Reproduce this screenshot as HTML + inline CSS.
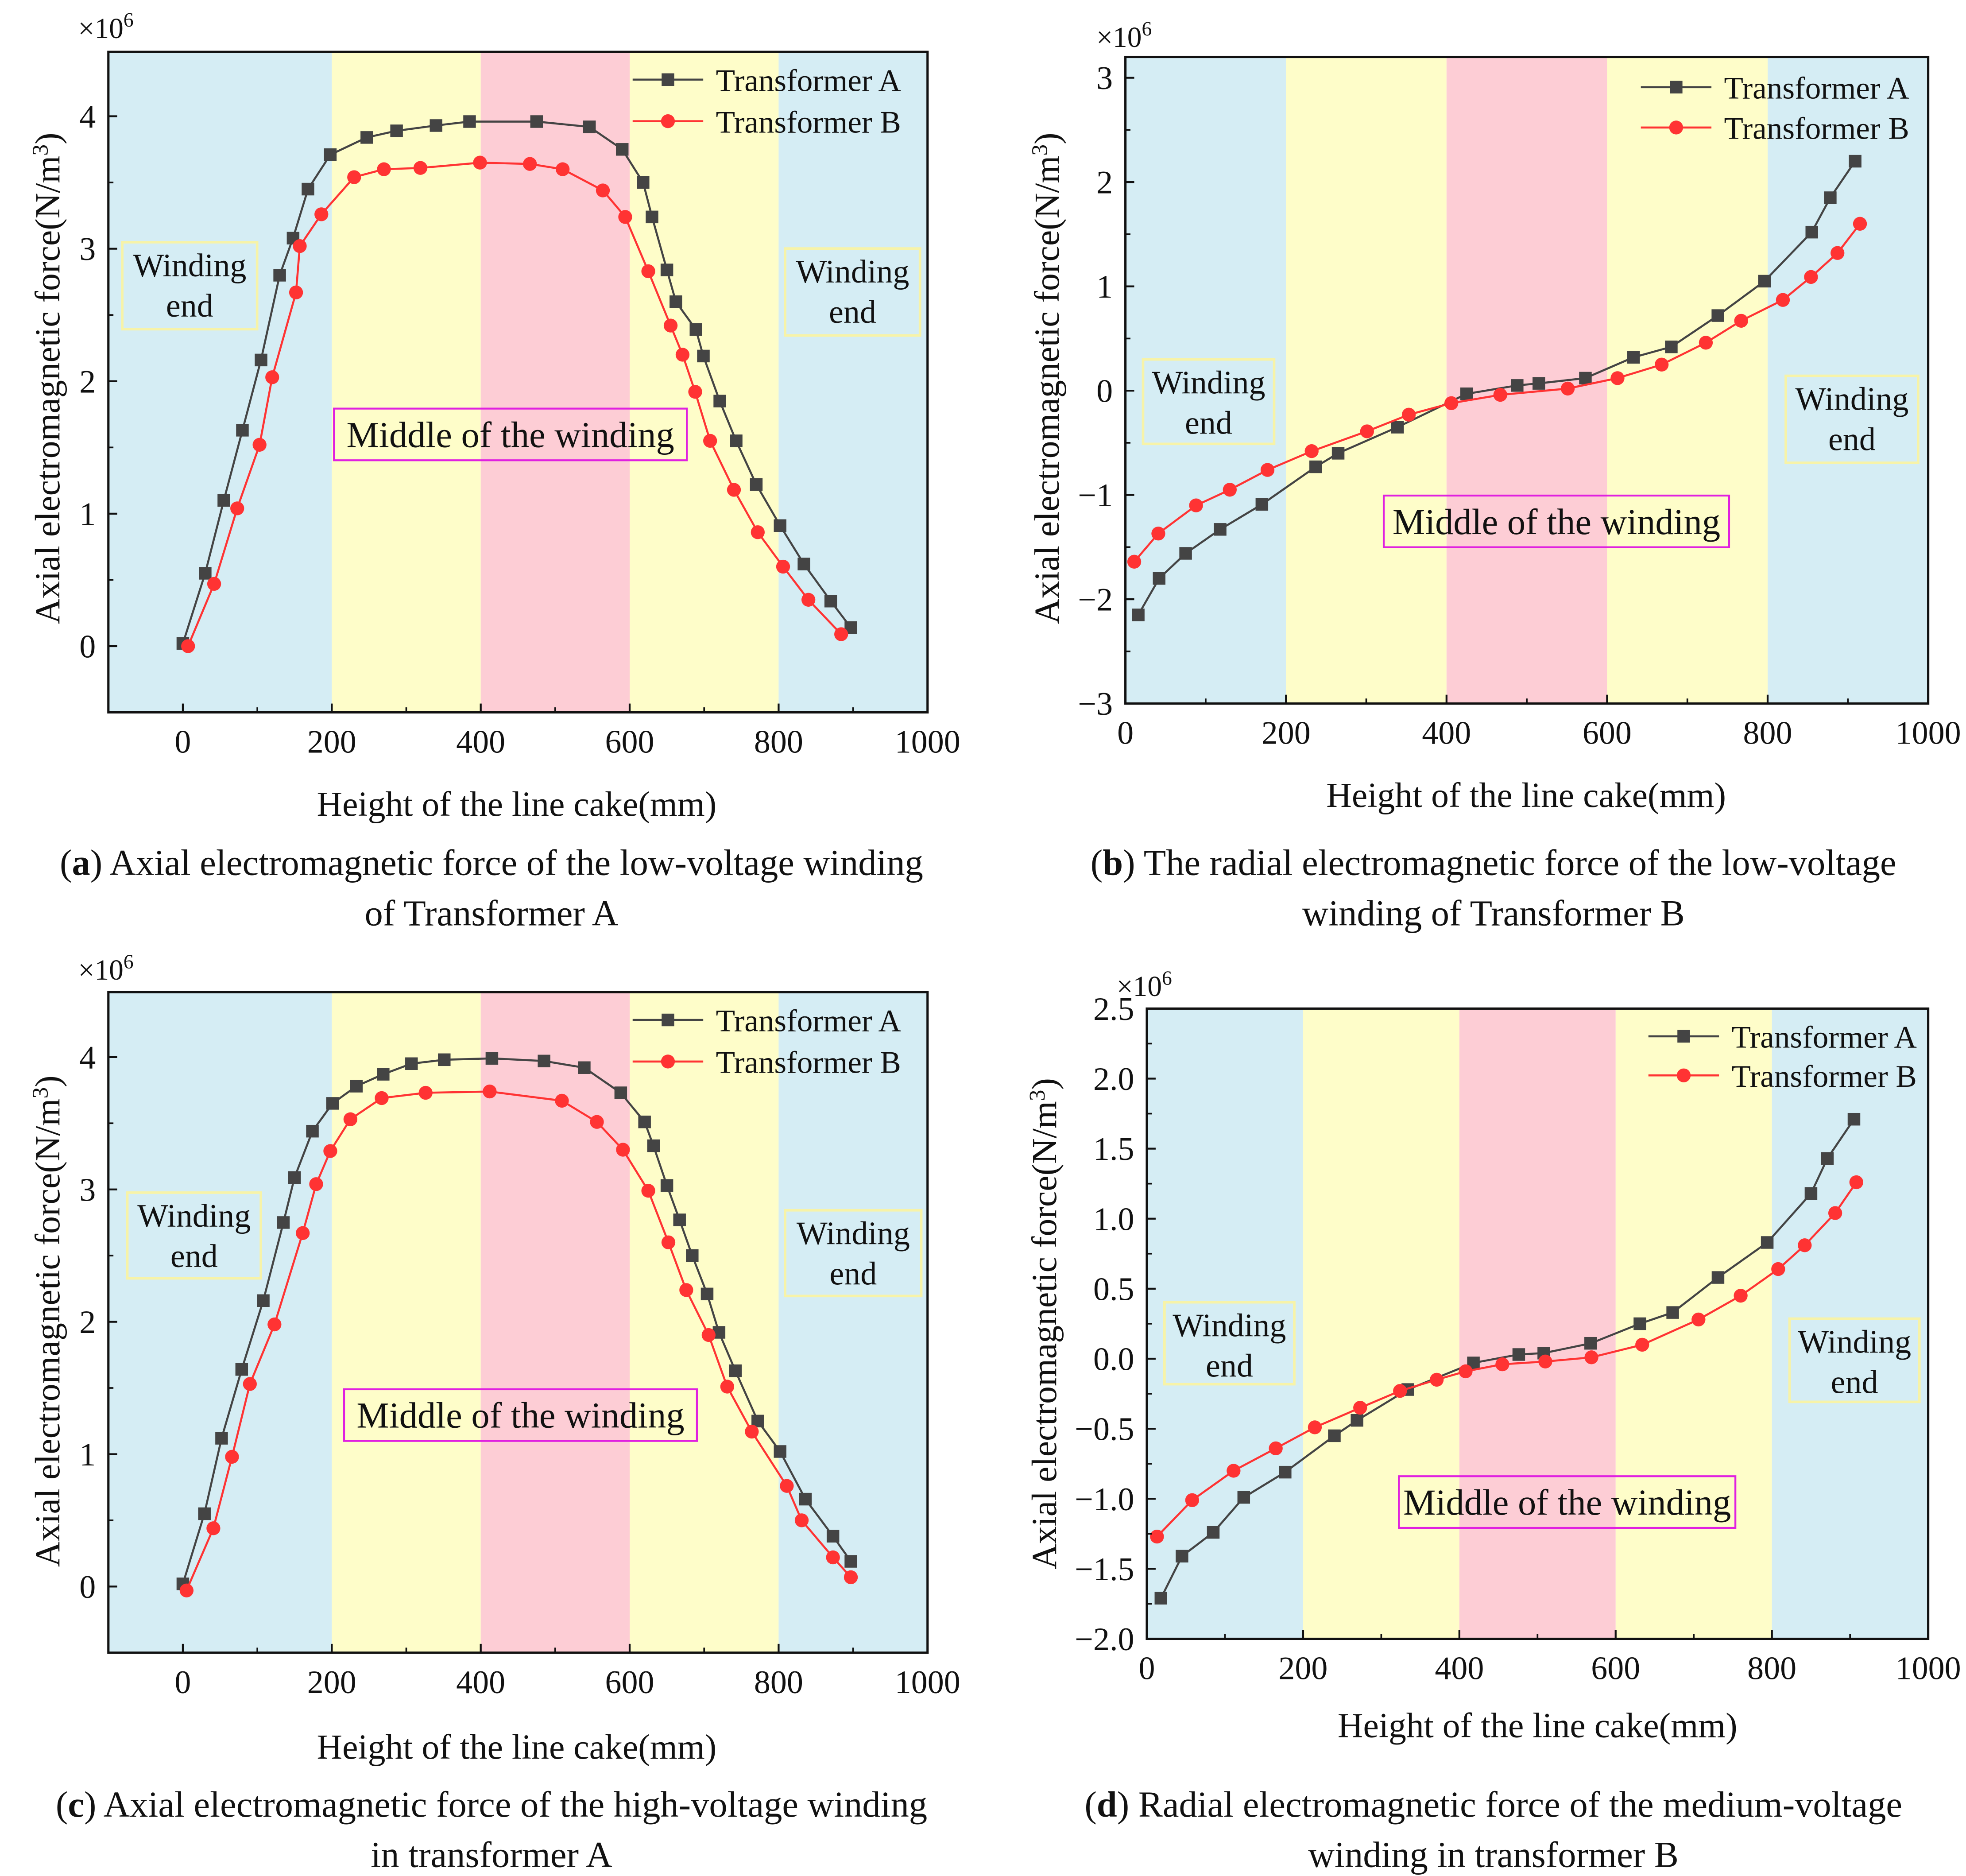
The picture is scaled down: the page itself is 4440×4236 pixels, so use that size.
<!DOCTYPE html>
<html><head><meta charset="utf-8"><style>
html,body{margin:0;padding:0;background:#fff}
svg{display:block}
text{font-family:"Liberation Serif",serif;fill:#111}
</style></head><body>
<svg id="fig" width="4440" height="4236" viewBox="0 0 1560 1488" xmlns="http://www.w3.org/2000/svg"></svg>
<script>
// Panel (a) data
const aAx=[0,30,55,80,105,130,148,168,198,247,287,340,385,475,546,590,618,630,650,662,689,699,721,743,770,802,834,870,897];
const aAy=[0.02,0.55,1.1,1.63,2.16,2.8,3.08,3.45,3.71,3.84,3.89,3.93,3.96,3.96,3.92,3.75,3.5,3.24,2.84,2.6,2.39,2.19,1.85,1.55,1.22,0.91,0.62,0.34,0.14];
const aBx=[7,42,73,103,120,152,157,186,230,270,319,399,466,510,564,594,625,655,671,688,708,740,772,806,840,884];
const aBy=[0.0,0.47,1.04,1.52,2.03,2.67,3.02,3.26,3.54,3.6,3.61,3.65,3.64,3.6,3.44,3.24,2.83,2.42,2.2,1.92,1.55,1.18,0.86,0.6,0.35,0.09];
// Panel (b) data
const bAx=[16,42,75,118,170,237,265,339,425,488,515,573,633,680,738,796,855,878,909];
const bAy=[-2.15,-1.8,-1.56,-1.33,-1.09,-0.73,-0.6,-0.35,-0.03,0.05,0.07,0.12,0.32,0.42,0.72,1.05,1.52,1.85,2.2];
const bBx=[11,41,88,130,177,232,301,353,406,467,551,613,668,723,767,819,854,887,915];
const bBy=[-1.64,-1.37,-1.1,-0.95,-0.76,-0.58,-0.39,-0.23,-0.12,-0.04,0.02,0.12,0.25,0.46,0.67,0.87,1.09,1.32,1.6];
// Panel (c) data
const cAx=[0,29,52,79,108,135,150,174,201,233,269,307,351,415,485,539,588,620,632,650,667,684,704,720,742,772,802,836,873,897];
const cAy=[0.02,0.55,1.12,1.64,2.16,2.75,3.09,3.44,3.65,3.78,3.87,3.95,3.98,3.99,3.97,3.92,3.73,3.51,3.33,3.03,2.77,2.5,2.21,1.92,1.63,1.25,1.02,0.66,0.38,0.19];
const cBx=[5,41,66,90,123,161,179,198,225,267,326,412,509,556,591,625,652,676,706,731,764,811,831,873,897];
const cBy=[-0.03,0.44,0.98,1.53,1.98,2.67,3.04,3.29,3.53,3.69,3.73,3.74,3.67,3.51,3.3,2.99,2.6,2.24,1.9,1.51,1.17,0.76,0.5,0.22,0.07];
// Panel (d) data
const dAx=[18,45,85,124,177,240,269,334,418,476,508,568,631,673,731,794,850,871,905];
const dAy=[-1.71,-1.41,-1.24,-0.99,-0.81,-0.55,-0.44,-0.22,-0.03,0.03,0.04,0.11,0.25,0.33,0.58,0.83,1.18,1.43,1.71];
const dBx=[13,58,111,165,215,273,324,371,408,455,510,569,634,706,760,808,842,881,908];
const dBy=[-1.27,-1.01,-0.8,-0.64,-0.49,-0.35,-0.23,-0.15,-0.09,-0.04,-0.02,0.01,0.1,0.28,0.45,0.64,0.81,1.04,1.26];
const xTicks=[0,200,400,600,800,1000];
const ticksA=[0,1,2,3,4];
const ticksB=[-3,-2,-1,0,1,2,3];
const ticksD=[-2.0,-1.5,-1.0,-0.5,0.0,0.5,1.0,1.5,2.0,2.5];

const NS="http://www.w3.org/2000/svg";
const svg=document.getElementById('fig');
function el(tag,attrs,parent){const e=document.createElementNS(NS,tag);for(const k in attrs)e.setAttribute(k,attrs[k]);(parent||svg).appendChild(e);return e;}
function txt(s,x,y,size,parent,anchor){const t=el('text',{x:x,y:y,'font-size':size,'text-anchor':anchor||'middle'},parent);t.textContent=s;return t;}

function panel(p){
  const g=el('g',{});
  
  
  const X=v=>p.x0+(v-p.xmin)/(p.xmax-p.xmin)*(p.x1-p.x0);
  const Y=v=>p.y1-(v-p.ymin)/(p.ymax-p.ymin)*(p.y1-p.y0);
  const bands=[[p.xmin,200,'#d5edf4'],[200,400,'#fefdc9'],[400,600,'#fdcdd5'],[600,800,'#fefdc9'],[800,p.xmax,'#d5edf4']];
  bands.forEach((b,i)=>{const r=el('rect',{x:X(b[0]),y:p.y0,width:X(b[1])-X(b[0]),height:p.y1-p.y0,fill:b[2]},g);
    
    });
  p.boxes.forEach(b=>{
    const bg=el('g',{},g);
    
    
    el('rect',{x:b.x,y:b.y,width:b.w,height:b.h,fill:'none',stroke:b.mid?'#e020e0':'#f7f3a8','stroke-width':b.mid?1.5:2},bg);
    if(b.mid){txt('Middle of the winding',b.x+b.w/2,b.y+b.h/2+10,29,bg);}
    else{txt('Winding',b.x+b.w/2,b.y+27,26,bg);txt('end',b.x+b.w/2,b.y+59,26,bg);}
  });
  const series=[[p.Ax,p.Ay,'#444','square','series-transformer-a'],[p.Bx,p.By,'#f33','circle','series-transformer-b']];
  series.forEach(s=>{
    const sg=el('g',{},g);
    
    
    let d='';s[0].forEach((v,i)=>{d+=(i?'L':'M')+X(v).toFixed(1)+' '+Y(s[1][i]).toFixed(1);});
    el('path',{d:d,fill:'none',stroke:s[2],'stroke-width':1.6},sg);
    s[0].forEach((v,i)=>{
      let m;
      if(s[3]==='square')m=el('rect',{x:X(v)-5,y:Y(s[1][i])-5,width:10,height:10,fill:s[2]},sg);
      else m=el('circle',{cx:X(v),cy:Y(s[1][i]),r:5.5,fill:s[2]},sg);
      
      
    });
  });
  el('rect',{x:p.x0,y:p.y0,width:p.x1-p.x0,height:p.y1-p.y0,fill:'none',stroke:'#111','stroke-width':1.8},g);
  const xg=el('g',{},g);
  
  
  xTicks.forEach((v,i)=>{
    el('line',{x1:X(v),x2:X(v),y1:p.y1,y2:p.y1-7,stroke:'#111','stroke-width':1.5},xg);
    if(i<xTicks.length-1){const m=v+100;el('line',{x1:X(m),x2:X(m),y1:p.y1,y2:p.y1-4,stroke:'#111','stroke-width':1.3},xg);}
    txt(String(v),X(v),p.y1+32,26,xg);
  });
  const yg=el('g',{},g);
  
  
  p.yt.forEach((v,i)=>{
    el('line',{x1:p.x0,x2:p.x0+7,y1:Y(v),y2:Y(v),stroke:'#111','stroke-width':1.5},yg);
    if(i<p.yt.length-1){const m=(v+p.yt[i+1])/2;el('line',{x1:p.x0,x2:p.x0+4,y1:Y(m),y2:Y(m),stroke:'#111','stroke-width':1.3},yg);}
    const lab=p.dec?(v<0?'\u2212':'')+Math.abs(v).toFixed(1):(v<0?'\u2212':'')+Math.abs(v);
    txt(lab,p.x0-10,Y(v)+9,26,yg,'end');
  });
  const mult=txt('\u00d710',p.mx,p.my,23,g,'start');
  const sup=el('tspan',{dy:-9,'font-size':16},mult);sup.textContent='6';
  
  
  const xt=txt('Height of the line cake(mm)',p.xtx,p.xty,28,g);
  
  
  const yt=el('text',{x:0,y:0,'font-size':28,'text-anchor':'middle',transform:`translate(${p.ytx},${p.yty}) rotate(-90)`},g);
  yt.textContent='Axial electromagnetic force(N/m';
  const s3=el('tspan',{dy:-9,'font-size':18},yt);s3.textContent='3';
  const s4=el('tspan',{dy:9},yt);s4.textContent=')';
  
  
  const lg=el('g',{},g);
  
  
  [['Transformer A','#444','sq',p.ly1],['Transformer B','#f33','ci',p.ly2]].forEach(L=>{
    const eg=el('g',{},lg);
    
    
    el('line',{x1:p.lx,x2:p.lx+56,y1:L[3],y2:L[3],stroke:L[1],'stroke-width':1.6},eg);
    if(L[2]==='sq')el('rect',{x:p.lx+23,y:L[3]-5,width:10,height:10,fill:L[1]},eg);
    else el('circle',{cx:p.lx+28,cy:L[3],r:5.5,fill:L[1]},eg);
    txt(L[0],p.lx+66,L[3]+9,25,eg,'start');
  });
  const cg=el('g',{},g);
  
  
  const c1=el('text',{x:p.cx,y:p.cy,'font-size':29,'text-anchor':'middle'},cg);
  c1.textContent='(';const bb=el('tspan',{'font-weight':'bold'},c1);bb.textContent=p.id;
  const rest=el('tspan',{},c1);rest.textContent=') '+p.cap1;
  txt(p.cap2,p.cx,p.cy+40,29,cg);
}

panel({id:'a',x0:86,x1:736,y0:41,y1:565,xmin:-100,xmax:1000,ymin:-0.5,ymax:4.486,yt:ticksA,
  Ax:aAx,Ay:aAy,Bx:aBx,By:aBy,mx:62,my:30,xtx:410,xty:647,ytx:47,yty:300,lx:502,ly1:63,ly2:96,
  boxes:[{x:97,y:192,w:107,h:69},{x:623,y:197,w:107,h:69},{x:265,y:324,w:280,h:41,mid:1}],
  cx:390,cy:694,cap1:'Axial electromagnetic force of the low-voltage winding',cap2:'of Transformer A'});
panel({id:'b',x0:893,x1:1530,y0:45,y1:558,xmin:0,xmax:1000,ymin:-3,ymax:3.2,yt:ticksB,
  Ax:bAx,Ay:bAy,Bx:bBx,By:bBy,mx:870,my:37,xtx:1211,xty:640,ytx:840,yty:300,lx:1302,ly1:69,ly2:101,
  boxes:[{x:907,y:285,w:104,h:67},{x:1417,y:298,w:105,h:69},{x:1098,y:393,w:274,h:41,mid:1}],
  cx:1185,cy:694,cap1:'The radial electromagnetic force of the low-voltage',cap2:'winding of Transformer B'});
panel({id:'c',x0:86,x1:736,y0:787,y1:1311,xmin:-100,xmax:1000,ymin:-0.5,ymax:4.49,yt:ticksA,
  Ax:cAx,Ay:cAy,Bx:cBx,By:cBy,mx:62,my:777,xtx:410,xty:1395,ytx:47,yty:1048,lx:502,ly1:809,ly2:842,
  boxes:[{x:101,y:946,w:106,h:68},{x:623,y:960,w:108,h:68},{x:273,y:1102,w:280,h:41,mid:1}],
  cx:390,cy:1441,cap1:'Axial electromagnetic force of the high-voltage winding',cap2:'in transformer A'});
panel({id:'d',x0:910,x1:1530,y0:800,y1:1300,xmin:0,xmax:1000,ymin:-2,ymax:2.5,yt:ticksD,dec:1,
  Ax:dAx,Ay:dAy,Bx:dBx,By:dBy,mx:886,my:790,xtx:1220,xty:1378,ytx:838,yty:1050,lx:1308,ly1:822,ly2:853,
  boxes:[{x:924,y:1033,w:103,h:65},{x:1420,y:1046,w:103,h:66},{x:1110,y:1171,w:267,h:41,mid:1}],
  cx:1185,cy:1441,cap1:'Radial electromagnetic force of the medium-voltage',cap2:'winding in transformer B'});
</script>
</body></html>
